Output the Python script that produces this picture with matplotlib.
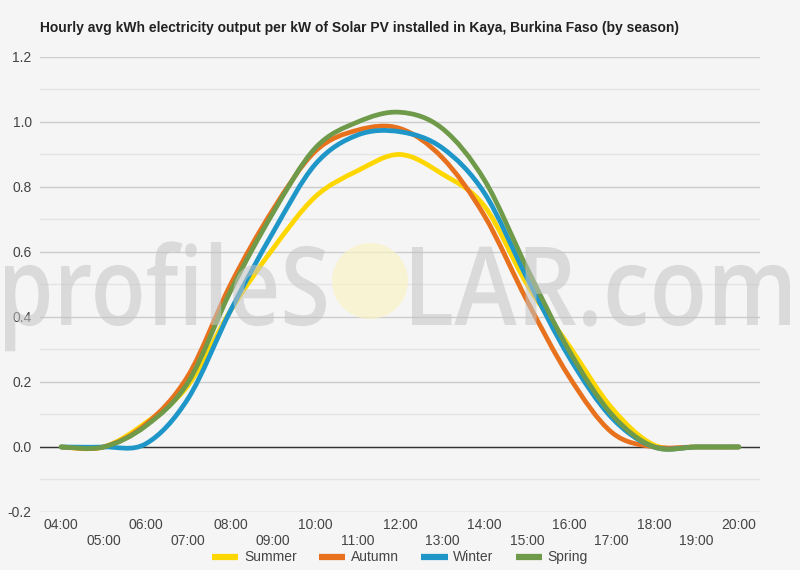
import matplotlib
matplotlib.use("Agg")
import matplotlib.pyplot as plt
import numpy as np
from matplotlib.path import Path
from matplotlib.patches import PathPatch, Ellipse
from matplotlib.lines import Line2D
from matplotlib.textpath import TextPath
from matplotlib.font_manager import FontProperties
from matplotlib.transforms import Affine2D, IdentityTransform

hours = ["04:00", "05:00", "06:00", "07:00", "08:00", "09:00", "10:00", "11:00",
         "12:00", "13:00", "14:00", "15:00", "16:00", "17:00", "18:00", "19:00", "20:00"]

summer = [0.0, 0.0, 0.075, 0.19, 0.42, 0.61, 0.77, 0.85, 0.90, 0.84, 0.74, 0.50, 0.31, 0.12, 0.006, 0.0, 0.0]
autumn = [0.0, 0.0, 0.07, 0.22, 0.50, 0.73, 0.91, 0.975, 0.98, 0.89, 0.71, 0.45, 0.215, 0.045, 0.0, 0.0, 0.0]
winter = [0.0, 0.0, 0.01, 0.15, 0.42, 0.66, 0.87, 0.96, 0.97, 0.92, 0.78, 0.52, 0.275, 0.09, 0.0, 0.0, 0.0]
spring = [0.0, 0.0, 0.065, 0.20, 0.48, 0.72, 0.92, 1.0, 1.03, 0.98, 0.82, 0.55, 0.295, 0.10, 0.0, 0.0, 0.0]

series = [("Summer", summer, "#ffd700"),
          ("Autumn", autumn, "#e8711d"),
          ("Winter", winter, "#1e96c8"),
          ("Spring", spring, "#6e9a4a")]

BG = "#f5f5f5"
plt.rcParams["font.family"] = ["Liberation Sans", "DejaVu Sans"]


def smooth_path(xs, ys):
    # catmull-rom segments written as cubic bezier pieces
    pts = np.column_stack([xs, ys]).astype(float)
    n = len(pts)
    verts = [pts[0]]
    codes = [Path.MOVETO]
    for i in range(n - 1):
        p0 = pts[max(i - 1, 0)]
        p1 = pts[i]
        p2 = pts[i + 1]
        p3 = pts[min(i + 2, n - 1)]
        c1 = p1 + (p2 - p0) / 6.0
        c2 = p2 - (p3 - p1) / 6.0
        verts += [c1, c2, p2]
        codes += [Path.CURVE4] * 3
    return Path(verts, codes)


fig = plt.figure(figsize=(8, 5.7), dpi=100, facecolor=BG)
ax = fig.add_axes([0.05, 0.1018, 0.90, 0.7982])
ax.set_facecolor(BG)

x = np.arange(len(hours))
for name, vals, col in series:
    ax.add_patch(PathPatch(smooth_path(x, vals), fill=False, edgecolor=col,
                           lw=3.4, capstyle="round", joinstyle="round", zorder=3))

ax.set_xlim(-0.5, len(hours) - 0.5)
ax.set_ylim(-0.2, 1.2)
ax.set_yticks(np.arange(-0.2, 1.21, 0.2))
ax.set_yticks(np.arange(-0.1, 1.2, 0.2), minor=True)
ax.set_yticklabels([f"{v:.1f}" for v in np.arange(-0.2, 1.21, 0.2)])
ax.grid(axis="y", which="major", color="#cccccc", lw=1, zorder=1)
ax.grid(axis="y", which="minor", color="#e4e4e4", lw=1, zorder=1)
ax.axhline(0, color="#333333", lw=1, zorder=2)
ax.set_xticks(x)
ax.set_xticklabels([h if i % 2 == 0 else "\n" + h for i, h in enumerate(hours)])
ax.tick_params(axis="both", which="both", length=0, labelsize=10, labelcolor="#444444")
ax.tick_params(axis="x", pad=4)
ax.tick_params(axis="y", pad=6)
for s in ax.spines.values():
    s.set_visible(False)

fig.text(0.05, 0.951, "Hourly avg kWh electricity output per kW of Solar PV installed in Kaya, Burkina Faso (by season)",
         fontsize=10, fontweight="bold", color="#222222", va="center")

# watermark, drawn in pixel coordinates
H = 570
fp = FontProperties(family="Open Sans", weight="semibold")
cap = TextPath((0, 0), "L", size=1, prop=fp).get_extents().height
sy = 78 / cap
for txt, x0, x1 in [("profileS", 5, 326), ("LAR.com", 412, 790)]:
    tp = TextPath((0, 0), txt, size=1, prop=fp)
    ext = tp.get_extents()
    sx = (x1 - x0) / ext.width
    tr = Affine2D().translate(-ext.x0, 0).scale(sx, sy).translate(x0, H - 325)
    fig.patches.append(PathPatch(tr.transform_path(tp), transform=IdentityTransform(),
                                 facecolor="#c4c4c4", edgecolor="none", alpha=0.55, zorder=5,
                                 figure=fig))
fig.patches.append(Ellipse((370, H - 281), 76, 76, transform=IdentityTransform(),
                           facecolor="#faf3c2", edgecolor="none", alpha=0.65, zorder=5,
                           figure=fig))

handles = [Line2D([], [], color=c, lw=4.5, solid_capstyle="butt") for _, _, c in series]
fig.legend(handles, [n for n, _, _ in series], loc="center", bbox_to_anchor=(0.5, 0.022),
           ncol=4, frameon=False, fontsize=10, handlelength=1.9, columnspacing=1.6,
           handletextpad=0.4, labelcolor="#444444")

fig.savefig("out.png", dpi=100, facecolor=BG)
